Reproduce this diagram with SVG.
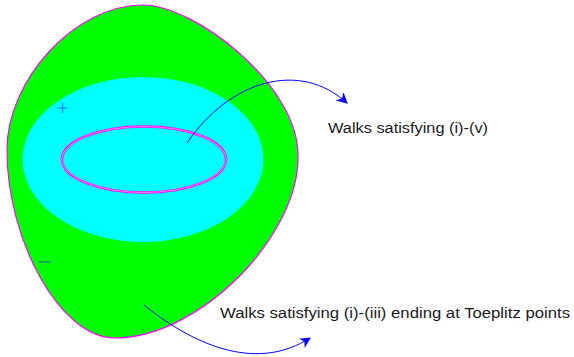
<svg xmlns="http://www.w3.org/2000/svg" width="574" height="357" viewBox="0 0 574 357">
<style>
.lbl{font-family:"Liberation Sans","Noto Sans",sans-serif;font-size:14px;fill:#1a1a1a}
.arr{fill:none;stroke:#0000ff;stroke-width:1}
.sign{fill:none;stroke:#0000ff;stroke-width:1.2;stroke-opacity:0.55}
</style>
<defs>
<marker id="ah" viewBox="0 0 10 10" refX="9" refY="5" markerWidth="11" markerHeight="11" markerUnits="userSpaceOnUse" orient="auto">
<path d="M0,0 L10,5 L0,10 L3,5 Z" fill="#0000ff"/>
</marker>
</defs>
<g id="outer">
<path d="M143,5 C195,5 298,85 298,155 C300,235 200,338 115,338 C60,338 7,240 7,150 C7,80 75,5 143,5 Z" fill="#00ff00" stroke="#ff00ff" stroke-width="1.2"/>
</g>
<g id="middle">
<ellipse cx="143" cy="159.5" rx="120.5" ry="82.5" fill="#00ffff"/>
</g>
<g id="inner">
<ellipse cx="144" cy="159.5" rx="82" ry="33" fill="none" stroke="#ff00ff" stroke-width="2.4"/>
<ellipse cx="144" cy="159.5" rx="82" ry="33" fill="none" stroke="#ffb0ff" stroke-width="0.7"/>
</g>
<g id="signs">
<path class="sign" d="M57.5,108 H67.5 M62.5,103 V113"/>
<path class="sign" d="M39,262 H51"/>
</g>
<g id="connectors">
<path class="arr" d="M187,143 C230,80 300,60 347,103" marker-end="url(#ah)"/>
<path class="arr" d="M144,305 C200,350 260,370 310,338" marker-end="url(#ah)"/>
</g>
<g id="label1"><text class="lbl" x="328" y="133" textLength="160" lengthAdjust="spacingAndGlyphs">Walks satisfying (i)-(v)</text></g>
<g id="label2"><text class="lbl" x="220" y="318" textLength="350" lengthAdjust="spacingAndGlyphs">Walks satisfying (i)-(iii) ending at Toeplitz points</text></g>
</svg>
